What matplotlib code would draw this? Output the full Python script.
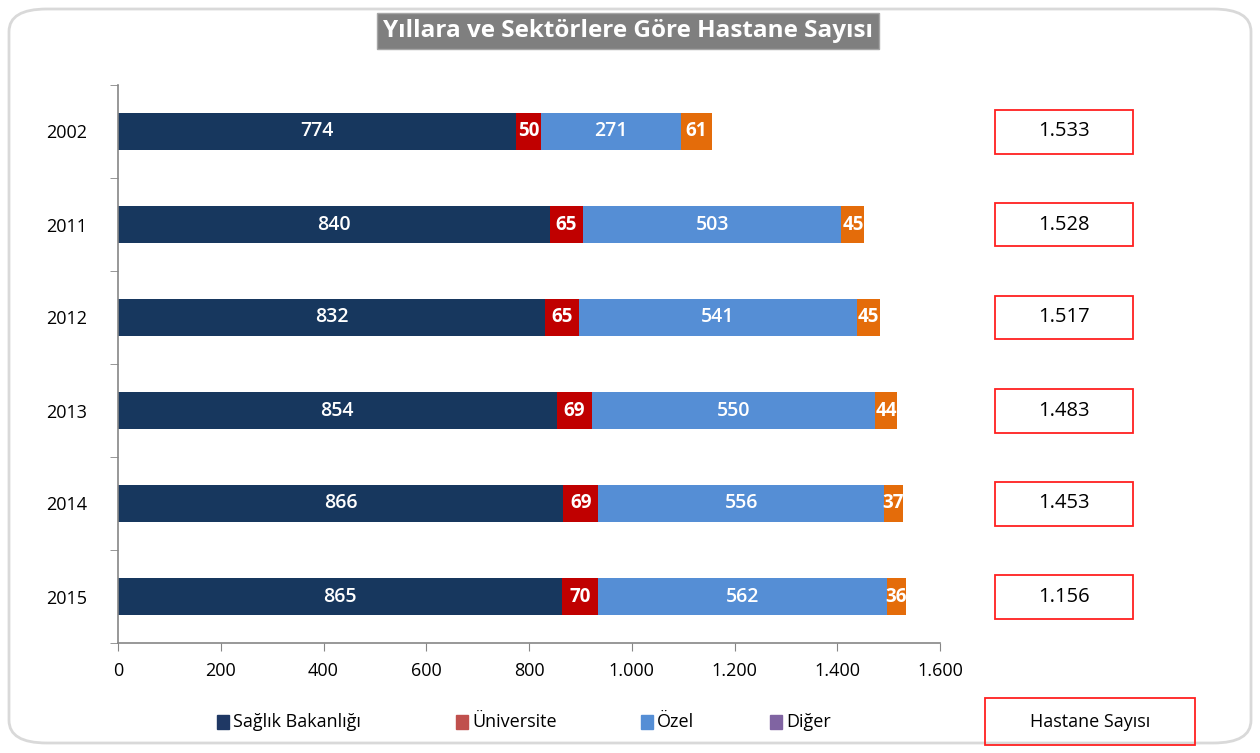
import numpy as np
import matplotlib.pyplot as plt
from matplotlib.patches import FancyBboxPatch, Rectangle
from matplotlib.ticker import FuncFormatter, FixedLocator

plt.rcParams['font.family'] = ['Open Sans', 'DejaVu Sans']

years = ["2002", "2011", "2012", "2013", "2014", "2015"]
saglik = [774, 840, 832, 854, 866, 865]
universite = [50, 65, 65, 69, 69, 70]
ozel = [271, 503, 541, 550, 556, 562]
diger = [61, 45, 45, 44, 37, 36]
# totals as printed in the boxes (top to bottom)
totals = ["1.533", "1.528", "1.517", "1.483", "1.453", "1.156"]

series = [saglik, universite, ozel, diger]
bar_colors = ["#17375E", "#C00000", "#558ED5", "#E46C0A"]
legend_names = ["Sağlık Bakanlığı", "Üniversite", "Özel", "Diğer"]
legend_colors = ["#1F3864", "#C0504D", "#558ED5", "#8064A2"]

W, H = 1260, 753
fig = plt.figure(figsize=(W/100, H/100), dpi=100)
ax = fig.add_axes([118/W, 1-643/H, 822/W, 558/H])

# rounded outer border
fig.patches.append(FancyBboxPatch((9/W, 10/H), 1242/W, 734/H,
                                  boxstyle="round,pad=0,rounding_size=0.03",
                                  transform=fig.transFigure, fill=False,
                                  edgecolor="#D9D9D9", linewidth=2))

ypos = np.arange(len(years))[::-1]
left = np.zeros(len(years))
for vals, col in zip(series, bar_colors):
    vals = np.array(vals)
    ax.barh(ypos, vals, left=left, height=0.4, color=col, edgecolor="none")
    for y, l, v in zip(ypos, left, vals):
        small = v < 100
        ax.text(l + v/2, y, str(v), ha="center", va="center", color="white",
                fontsize=13.5 if small else 14, fontweight="bold" if small else "semibold")
    left += vals

ax.set_xlim(0, 1600)
ax.set_ylim(-0.5, len(years) - 0.5)
ax.set_xticks(np.arange(0, 1601, 200))
ax.xaxis.set_major_formatter(FuncFormatter(lambda v, p: f"{int(v):,}".replace(",", ".")))
ax.set_yticks(ypos)
ax.set_yticklabels(years)
ax.yaxis.set_minor_locator(FixedLocator(np.arange(-0.5, len(years), 1)))
ax.tick_params(axis="y", which="major", length=0, pad=22, labelsize=13)
ax.tick_params(axis="y", which="minor", length=6, color="#868686", direction="out")
ax.tick_params(axis="x", length=6, color="#868686", labelsize=13, pad=8)
for s in ["top", "right"]:
    ax.spines[s].set_visible(False)
for s in ["left", "bottom"]:
    ax.spines[s].set_color("#868686")
    ax.spines[s].set_linewidth(1.2)

# total boxes on the right
for y, t in zip(ypos, totals):
    yc = ax.transData.transform((0, y))[1] / fig.dpi / (H/100)
    fig.patches.append(Rectangle((995/W, yc - 22/H), 138/W, 44/H,
                                 transform=fig.transFigure, fill=False,
                                 edgecolor="#FF2020", linewidth=1.3))
    fig.text(1064/W, yc, t, ha="center", va="center", fontsize=14.5, color="black")

# title
fig.text(628/W, 1-31/H, "Yıllara ve Sektörlere Göre Hastane Sayısı",
         ha="center", va="center", fontsize=17.5, fontweight="bold", color="white",
         bbox=dict(boxstyle="square,pad=0.25", facecolor="#7F7F7F", edgecolor="#A6A6A6"))

# legend
leg_x = [217, 456, 641, 770]
for x, name, col in zip(leg_x, legend_names, legend_colors):
    fig.patches.append(Rectangle((x/W, 1-729/H), 12/W, 14/H,
                                 transform=fig.transFigure, color=col))
    fig.text((x + 16)/W, 1-722/H, name, ha="left", va="center", fontsize=13)
fig.patches.append(Rectangle((985/W, 1-745/H), 210/W, 47/H,
                             transform=fig.transFigure, fill=False,
                             edgecolor="#FF2020", linewidth=1.3))
fig.text(1090/W, 1-722/H, "Hastane Sayısı", ha="center", va="center", fontsize=13)

fig.savefig("out.png", dpi=100)
